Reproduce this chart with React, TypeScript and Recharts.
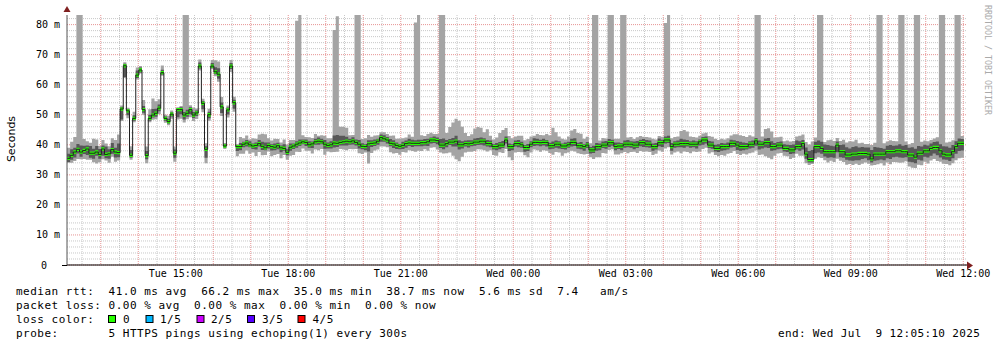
import React from 'react';
import { ComposedChart, Area, Line, XAxis, YAxis, CartesianGrid } from 'recharts';

// time axis: minutes since Tue 00:00, one sample every 5 minutes
const startMinute = 726;
const stepMinutes = 5;

// median rtt per 5-minute step (ms)
const median = [
  35.5, 36.5, 37.6, 38.5, 37.6, 38.1, 38.6, 37.2, 37.2, 37.6,
  36.8, 38.6, 36.8, 37.0, 38.4, 37.6, 37.4, 51.9, 66.3, 51.3,
  36.5, 48.8, 63.2, 64.9, 51.7, 36.4, 48.8, 49.9, 50.5, 52.2,
  64.0, 48.8, 47.7, 50.2, 37.2, 51.7, 51.7, 49.9, 50.5, 51.7,
  49.9, 50.6, 66.2, 53.8, 38.5, 50.0, 66.2, 64.3, 63.5, 52.6,
  39.6, 51.6, 66.2, 54.0, 39.4, 39.4,
  40.2, 40.6, 40.0, 39.6, 39.8, 40.4, 39.5, 39.0, 39.8, 39.4,
  39.2, 39.7, 39.0, 38.8, 37.5, 39.2, 39.6,
  40.2, 40.6, 41.0, 40.8, 40.0, 40.3, 41.0, 41.2, 41.0, 40.2, 39.8, 40.0, 40.6, 40.5, 40.8, 41.0, 41.2, 41.0,
  41.3, 40.8, 40.2, 39.5, 39.4, 40.3, 40.5, 40.6, 41.2, 42.4, 42.0, 41.6, 40.5, 40.3, 39.8, 39.5, 39.8, 40.4, 40.6, 40.5, 40.5,
  40.5, 40.7, 40.7, 41.0, 41.6, 41.6, 41.4, 39.9, 39.9, 40.4,
  40.9, 40.9, 41.2, 40.0, 40.0, 40.4, 40.3, 40.5, 40.9, 40.9,
  41.2, 41.2, 40.4, 40.4, 39.4, 39.4, 39.9, 39.9, 41.6, 39.4,
  39.4, 40.4, 40.4, 40.0, 39.1, 39.1, 40.2, 40.8, 40.8, 40.7,
  40.8, 40.8, 39.7, 39.7, 40.2, 40.2, 39.6, 39.6, 40.0, 40.8,
  40.8, 39.7, 39.7, 39.4, 39.9,
  38.3, 38.3, 39.4, 39.4, 39.9, 39.9, 40.7, 40.7, 39.4, 39.6,
  39.6, 40.2, 40.2, 40.2, 39.9, 39.9, 40.7, 40.7, 40.2, 40.2,
  39.4, 39.4, 40.7, 40.7, 41.6, 41.6, 39.4, 40.2, 40.2, 40.4,
  40.4, 40.4, 40.2, 40.2, 40.2, 41.0, 41.6, 41.6, 39.9, 39.9,
  38.8, 38.8, 39.4, 39.4, 39.4, 40.5, 40.5, 39.9, 39.4, 39.4,
  39.4, 40.2, 40.2, 41.3, 40.2, 40.2, 40.7, 40.7, 39.4, 39.4,
  39.9, 39.9, 38.8, 38.8, 38.3, 38.3, 39.4, 39.4, 40.4, 36.9,
  35.1, 35.1, 39.4, 39.4, 38.8, 37.7, 37.7, 37.7, 37.7, 39.9,
  37.7, 37.7, 36.6, 36.6, 36.9, 36.9, 37.1, 37.1, 37.1, 36.9,
  35.3, 36.9, 36.9, 36.9, 36.9, 37.7, 37.7, 37.7, 38.0, 38.0,
  37.7, 37.7, 36.6, 36.6, 35.9, 37.2, 37.2, 38.0, 38.0, 38.8,
  39.1, 39.1, 38.0, 36.9, 36.6, 36.6, 37.7, 39.4, 40.5, 40.5,
];

// distance from median down to 2nd ping (ms)
const darkLo = [
  1.2, 1.5, 1.8, 1.4, 1.6, 1.2, 2.0, 1.5, 1.8, 1.2, 1.4, 2.2, 1.3, 1.6, 1.4, 1.8, 1.5,
  3.5, 3.8, 1.5, 0.8, 0.8, 1.0, 0.8, 1.0, 1.2, 0.8, 0.8, 1.2, 1.0, 0.6, 0.8, 0.6, 0.8, 1.5, 2.5, 1.5,
  1.5, 1.2, 1.5, 1.0, 1.0, 0.8, 2.0, 2.8, 1.2, 0.6, 0.8, 1.5, 2.0, 0.5, 1.5, 1.0, 2.0, 1.5, 1.2,
  1.0, 1.2, 0.8, 1.0, 1.4, 1.0, 1.2, 0.8, 1.0, 1.3, 1.0, 1.2, 1.5, 0.8, 1.0, 1.2, 1.0,
  1.2, 1.0, 0.8, 1.2, 1.0, 1.4, 1.0, 1.2, 0.8, 1.5, 1.0, 1.2, 1.5, 1.2, 1.0, 1.2, 1.4, 1.0,
  1.2, 1.0, 1.4, 1.0, 1.2, 2.5, 1.2, 1.0, 1.2, 1.4, 1.0, 1.2, 1.0, 1.4, 1.2, 1.0, 1.2, 1.4, 1.0, 1.2, 1.0,
  1.0, 1.2, 1.0, 1.4, 1.2, 1.0, 1.2, 1.0, 1.4, 1.2, 1.0, 1.5, 1.8, 1.6, 1.2, 1.0, 1.2, 1.0, 1.2,
  1.0, 1.2, 1.4, 1.0, 1.2, 1.0, 1.2, 1.4, 1.0, 1.2, 1.5, 1.2, 1.0, 1.2, 1.0, 1.4, 1.2, 1.0, 1.2, 1.0,
  1.2, 1.0, 1.4, 1.2, 1.0, 1.2, 1.4, 1.0, 1.2, 1.0, 1.4, 1.2, 1.0, 1.2, 1.4, 1.0,
  1.2, 1.0, 1.4, 1.2, 1.0, 1.2, 1.4, 1.0, 1.2, 1.0, 1.4, 1.2, 1.0, 1.2, 1.4, 1.0, 1.2, 1.4, 1.0, 1.2,
  1.4, 1.0, 1.2, 1.4, 1.2, 1.0, 1.4, 1.2, 1.0, 1.2, 1.4, 1.0, 1.2, 1.0, 1.4, 1.2, 1.6, 1.2, 1.0, 1.2,
  1.0, 1.2, 1.4, 1.2, 1.0, 1.4, 1.2, 1.6, 1.4, 1.2, 1.0, 1.4, 1.2, 1.6, 1.8, 1.4, 1.6, 1.8, 1.4, 1.2,
  1.4, 1.2, 1.0, 1.2, 1.4, 1.2, 1.0, 1.4, 2.0, 1.5, 1.0, 1.0, 2.2, 2.0, 1.8, 1.6, 2.0, 1.8, 2.0, 2.4,
  1.8, 2.0, 1.6, 1.8, 2.2, 2.0, 2.2, 1.8, 1.6, 2.0, 1.2, 2.2, 2.0, 1.8, 2.0, 2.2, 2.4, 1.8, 2.0, 2.2,
  2.0, 1.8, 2.2, 2.4, 2.0, 2.2, 2.4, 2.0, 2.2, 2.4, 2.0, 2.6, 2.2, 1.8, 1.6, 2.0, 2.2, 2.4, 2.6, 2.4,
];

// distance from median up to 4th ping (ms)
const darkHi = [
  1.5, 2.0, 1.4, 1.8, 2.2, 1.6, 1.2, 2.4, 1.5, 2.0, 1.8, 1.2, 2.6, 1.5, 2.2, 1.4, 3.0,
  0.6, 0.7, 0.6, 1.8, 1.0, 1.5, 0.8, 1.2, 1.5, 1.2, 2.0, 1.5, 1.2, 1.0, 0.6, 1.0, 0.6, 1.2, 0.5, 0.8,
  1.0, 1.2, 0.8, 1.0, 0.8, 1.2, 0.8, 1.0, 1.0, 1.0, 1.5, 2.0, 1.5, 0.5, 0.8, 1.0, 1.0, 0.5, 1.2,
  0.8, 1.0, 1.2, 0.8, 1.0, 1.2, 1.5, 1.8, 1.0, 0.8, 1.2, 1.0, 0.8, 1.4, 1.0, 1.2, 0.8,
  1.0, 1.2, 0.8, 1.0, 1.2, 0.8, 1.0, 1.2, 1.0, 1.4, 1.0, 1.2, 2.5, 2.8, 2.2, 2.0, 1.5, 1.0,
  1.2, 1.0, 1.4, 1.0, 0.8, 1.2, 1.0, 1.2, 0.8, 1.0, 1.2, 1.0, 1.4, 1.2, 1.0, 0.8, 1.2, 1.0, 1.4, 1.2, 1.0,
  1.2, 1.0, 1.2, 1.0, 0.8, 1.2, 1.0, 2.0, 2.2, 1.2, 1.0, 1.4, 1.8, 1.5, 1.2, 1.0, 1.2, 1.0, 1.2,
  1.4, 1.2, 1.0, 1.2, 1.0, 0.8, 1.2, 1.0, 1.4, 1.2, 1.0, 0.8, 1.0, 1.2, 1.0, 0.8, 1.2, 1.0, 1.4, 1.2,
  1.0, 1.2, 0.8, 1.0, 1.4, 1.2, 1.0, 0.8, 1.2, 1.0, 1.2, 1.4, 1.0, 1.2, 0.8, 1.0,
  1.0, 1.4, 1.2, 1.0, 1.2, 1.4, 1.2, 1.0, 1.4, 1.2, 1.0, 1.2, 1.4, 1.0, 1.2, 1.4, 1.0, 1.2, 1.4, 1.2,
  1.0, 1.2, 1.4, 1.0, 1.2, 1.4, 1.2, 1.0, 1.2, 1.6, 1.4, 1.2, 1.0, 1.2, 1.0, 0.8, 1.0, 1.2, 1.4, 1.2,
  1.2, 1.4, 1.2, 1.0, 1.4, 1.2, 1.0, 1.4, 1.6, 1.4, 1.2, 1.0, 1.2, 1.0, 1.2, 1.0, 1.4, 1.6, 1.8, 1.2,
  1.0, 1.2, 1.4, 1.2, 1.6, 1.8, 2.0, 1.8, 1.2, 2.2, 2.8, 3.2, 1.6, 2.0, 2.2, 2.4, 2.2, 2.0, 1.8, 1.2,
  2.2, 2.4, 2.6, 2.2, 2.4, 2.6, 2.0, 2.2, 2.0, 2.2, 3.0, 2.4, 2.2, 2.0, 1.8, 2.0, 2.2, 2.0, 1.8, 2.2,
  2.0, 2.2, 2.4, 2.6, 2.8, 2.4, 2.2, 2.0, 1.8, 1.6, 1.8, 2.0, 2.2, 2.6, 2.8, 2.4, 2.2, 1.8, 1.6, 1.4,
];

// distance from median down to fastest ping (ms)
const lightLo = [
  1.5, 2.5, 3.0, 3.2, 2.4, 2.8, 3.6, 2.2, 3.0, 3.8, 2.6, 3.4, 2.0, 3.0, 2.4, 3.2, 2.6,
  4.0, 4.0, 2.5, 1.5, 1.3, 1.5, 1.2, 1.7, 2.5, 1.3, 1.6, 2.0, 2.0, 1.0, 1.5, 1.2, 1.5, 2.8, 3.3, 3.0,
  2.5, 2.0, 2.5, 2.0, 2.0, 1.5, 3.0, 4.6, 2.0, 1.0, 1.5, 2.5, 3.0, 1.0, 2.5, 2.0, 3.0, 3.2, 2.4,
  3.2, 2.5, 3.0, 2.2, 3.5, 2.8, 3.0, 2.4, 2.0, 3.2, 2.6, 2.8, 3.5, 2.2, 2.5, 2.8, 3.0,
  2.5, 3.0, 2.2, 2.8, 2.0, 3.2, 2.6, 3.0, 2.4, 3.5, 2.0, 2.5, 3.0, 2.8, 2.2, 2.6, 3.0, 2.4,
  2.8, 2.2, 3.0, 2.6, 2.0, 6.5, 3.2, 2.5, 2.8, 3.0, 2.6, 2.4, 3.0, 3.2, 2.5, 2.8, 2.2, 3.0, 2.4, 2.6, 2.8,
  2.5, 2.8, 2.2, 3.0, 2.6, 2.4, 3.0, 2.5, 2.8, 3.2, 3.5, 4.5, 6.0, 5.5, 4.0, 3.0, 2.6, 2.8, 3.0,
  2.4, 2.8, 3.0, 2.6, 2.2, 2.8, 3.0, 2.4, 2.6, 3.0, 3.5, 4.5, 3.0, 2.8, 2.5, 2.6, 3.2, 2.8, 2.4, 2.6,
  3.0, 2.6, 2.8, 2.4, 3.0, 2.6, 2.8, 3.2, 2.4, 2.6, 2.8, 3.0, 2.5, 2.8, 2.6, 3.0,
  2.4, 3.0, 3.5, 3.5, 2.6, 2.8, 2.4, 2.2, 2.6, 2.8, 2.4, 2.6, 3.0, 2.6, 2.2, 2.6, 2.8, 3.0, 2.4, 2.6,
  2.8, 2.4, 2.6, 3.0, 2.8, 2.4, 2.6, 2.8, 2.4, 3.2, 2.6, 2.8, 3.0, 2.4, 2.6, 3.2, 3.0, 2.6, 2.8, 2.4,
  2.2, 2.6, 2.8, 3.0, 2.4, 3.2, 2.6, 3.0, 2.8, 2.4, 2.6, 3.0, 2.8, 3.2, 3.6, 3.4, 4.5, 5.0, 4.2, 3.0,
  2.8, 2.6, 2.4, 2.6, 3.0, 2.6, 2.4, 3.0, 4.0, 3.0, 1.8, 1.5, 4.0, 3.5, 3.2, 2.8, 3.6, 3.0, 3.4, 4.5,
  3.0, 3.4, 3.2, 3.0, 3.6, 3.2, 3.8, 3.4, 3.0, 3.2, 2.2, 3.6, 3.4, 3.0, 3.8, 3.6, 4.2, 3.4, 3.8, 4.0,
  3.6, 3.2, 3.8, 4.2, 3.6, 3.8, 4.0, 3.6, 4.2, 4.0, 3.8, 4.5, 3.6, 3.2, 3.0, 3.4, 3.8, 4.5, 5.0, 4.8,
];

// distance from median up to slowest ping (ms); large values run off the top
const lightHi = [
  3.5, 4.5, 5.0, 60, 60, 3.8, 2.6, 3.5, 4.8, 4.2, 2.8, 3.0, 3.6, 2.5, 3.8, 4.0, 6.0,
  1.2, 1.2, 1.0, 3.0, 2.2, 2.5, 1.3, 3.2, 3.0, 3.0, 5.5, 4.0, 3.0, 2.4, 1.2, 2.0, 1.2, 2.2, 0.8, 1.2,
  60, 60, 1.5, 2.5, 1.5, 2.2, 1.5, 2.0, 2.0, 2.0, 3.8, 4.2, 3.3, 1.0, 1.5, 2.0, 2.0, 0.8, 3.2,
  2.0, 2.5, 1.8, 2.6, 2.2, 3.0, 4.2, 4.5, 2.4, 2.0, 2.8, 2.2, 1.8, 3.0, 2.6, 2.4, 2.0,
  41.1, 60, 2.2, 1.8, 2.5, 2.0, 2.6, 1.8, 2.2, 2.8, 2.4, 2.2, 37.6, 42.3, 5.2, 5.0, 4.5, 2.2,
  2.0, 60, 60, 2.4, 2.8, 3.0, 2.2, 2.5, 2.0, 1.8, 2.2, 2.0, 2.5, 2.8, 2.2, 2.6, 2.4, 2.0, 2.8, 2.2, 40.2,
  60, 2.5, 2.2, 2.6, 2.4, 2.0, 2.2, 60, 60, 3.5, 5.0, 6.5, 7.5, 8.0, 6.0, 3.5, 2.6, 3.0, 4.5,
  5.0, 4.5, 3.0, 4.8, 2.6, 2.4, 3.0, 4.0, 5.0, 4.0, 3.5, 2.8, 2.4, 2.6, 3.0, 2.4, 2.8, 2.6, 2.2, 2.8,
  2.6, 2.4, 2.8, 3.5, 6.0, 4.0, 2.6, 2.4, 2.2, 2.8, 4.0, 4.5, 4.2, 4.0, 2.6, 2.8,
  2.2, 60, 60, 2.0, 2.4, 2.2, 60, 60, 2.6, 2.4, 60, 60, 2.2, 2.4, 2.0, 2.6, 2.2, 2.0, 2.4, 2.2,
  2.6, 2.4, 2.2, 2.0, 38.9, 60, 2.8, 2.4, 2.6, 4.2, 4.5, 4.0, 2.6, 2.4, 2.2, 2.0, 2.2, 2.4, 3.0, 2.8,
  3.2, 2.8, 2.6, 2.4, 2.8, 2.6, 3.0, 3.6, 3.8, 3.5, 3.2, 3.0, 2.6, 60, 60, 2.6, 4.6, 4.8, 5.0, 3.0,
  2.6, 2.8, 2.4, 2.6, 2.8, 3.0, 3.4, 3.6, 3.0, 4.0, 5.0, 6.0, 3.0, 60, 60, 3.2, 3.8, 4.0, 3.6, 2.4,
  3.6, 4.0, 4.2, 4.6, 4.2, 4.8, 3.4, 3.6, 3.2, 3.4, 4.6, 3.8, 60, 60, 3.6, 3.4, 3.8, 3.6, 3.2, 60,
  60, 3.4, 3.6, 4.0, 60, 60, 3.8, 3.4, 3.2, 2.8, 3.0, 3.4, 60, 60, 4.2, 4.4, 3.8, 60, 60, 2.4,
];

const xTickValues = [900, 1080, 1260, 1440, 1620, 1800, 1980, 2160];
const xTickLabels = ['Tue 15:00', 'Tue 18:00', 'Tue 21:00', 'Wed 00:00', 'Wed 03:00', 'Wed 06:00', 'Wed 09:00', 'Wed 12:00'];
const yTickValues = [0, 10, 20, 30, 40, 50, 60, 70, 80];
const yTickLabels = ['0', '10 m', '20 m', '30 m', '40 m', '50 m', '60 m', '70 m', '80 m'];

const statsLine1 = 'median rtt:  41.0 ms avg  66.2 ms max  35.0 ms min  38.7 ms now  5.6 ms sd  7.4   am/s';
const statsLine2 = 'packet loss: 0.00 % avg  0.00 % max  0.00 % min  0.00 % now';
const probeLine = 'probe:       5 HTTPS pings using echoping(1) every 300s';
const endLine = 'end: Wed Jul  9 12:05:10 2025';
const lossLabels = ['0', '1/5', '2/5', '3/5', '4/5'];
const lossColors = ['#26ff00', '#00b8ff', '#cc00ff', '#5500ff', '#ff0000'];

const Y_MAX = 83.2;
const GREEN_HALF = 0.55;

const rows = median.map((m, i) => ({
  t: startMinute + stepMinutes * i,
  light: [m - lightLo[i], m + lightHi[i]],
  dark: [m - darkLo[i], m + darkHi[i]],
  green: [m - GREEN_HALF, m + GREEN_HALF],
  median: m,
}));
// closing point so the last step has its width
const last = rows[rows.length - 1];
const data = [...rows, { ...last, t: last.t + stepMinutes }];

const domainStart = startMinute;
const domainEnd = startMinute + 1440;

const minorV: number[] = [];
const majorV: number[] = [];
for (let m = 750; m <= domainEnd; m += 30) {
  if (m % 60 === 0) majorV.push(m);
  else minorV.push(m);
}
const minorH: number[] = [];
const majorH: number[] = [];
for (let v = 0; v <= Y_MAX; v += 2) {
  if (v % 10 === 0) majorH.push(v);
  else minorH.push(v);
}

const MONO = 'DejaVu Sans Mono';

const YTick = (props: any) => {
  const { x, y, payload } = props;
  const idx = yTickValues.indexOf(payload.value);
  const label = yTickLabels[idx] ?? String(payload.value);
  const shift = payload.value === 0 ? 13 : 0;
  return (
    <text x={x - shift} y={y} dy={3.5} textAnchor="end" fontFamily={MONO} fontSize={10} fill="#000">
      {label}
    </text>
  );
};

const XTick = (props: any) => {
  const { x, y, payload } = props;
  const idx = xTickValues.indexOf(payload.value);
  return (
    <text x={x} y={y} dy={8} textAnchor="middle" fontFamily={MONO} fontSize={10} fill="#000">
      {xTickLabels[idx]}
    </text>
  );
};

const boxX = [108.5, 146, 197, 247.5, 298];
const labelX = [123, 160, 211, 262, 312.5];

export default function App() {
  return (
    <div style={{ position: 'absolute', left: 0, top: 0, width: 997, height: 347, background: '#fff' }}>
      <ComposedChart
        width={997}
        height={347}
        data={data}
        margin={{ top: 15, right: 30, bottom: 52, left: 7 }}
      >
        <CartesianGrid
          horizontalValues={minorH}
          verticalValues={minorV}
          stroke="#c8c8c8"
          strokeDasharray="1 1"
        />
        <CartesianGrid
          horizontalValues={majorH}
          verticalValues={majorV}
          stroke="#e79494"
          strokeDasharray="1 1"
        />
        <XAxis
          dataKey="t"
          type="number"
          domain={[domainStart, domainEnd]}
          ticks={xTickValues}
          tick={<XTick />}
          tickLine={false}
          tickSize={0}
          tickMargin={4}
          axisLine={{ stroke: '#000' }}
          height={30}
          allowDataOverflow
          interval={0}
        />
        <YAxis
          type="number"
          domain={[0, Y_MAX]}
          ticks={yTickValues}
          tick={<YTick />}
          tickLine={false}
          tickSize={0}
          tickMargin={7}
          axisLine={{ stroke: '#555' }}
          width={60}
          allowDataOverflow
          interval={0}
        />
        <Area
          type="stepAfter"
          dataKey="light"
          fill="#a4a4a4"
          fillOpacity={1}
          stroke="none"
          isAnimationActive={false}
          activeDot={false}
        />
        <Area
          type="stepAfter"
          dataKey="dark"
          fill="#585858"
          fillOpacity={1}
          stroke="none"
          isAnimationActive={false}
          activeDot={false}
        />
        <Line
          type="stepAfter"
          dataKey="median"
          stroke="#202020"
          strokeWidth={1}
          dot={false}
          activeDot={false}
          isAnimationActive={false}
        />
        <Area
          type="stepAfter"
          dataKey="green"
          fill={lossColors[0]}
          fillOpacity={1}
          stroke="none"
          isAnimationActive={false}
          activeDot={false}
        />
      </ComposedChart>
      <svg
        width={997}
        height={347}
        style={{ position: 'absolute', left: 0, top: 0, pointerEvents: 'none' }}
      >
        <polygon points="63.5,12 70.5,12 67,6" fill="#7f1f1f" />
        <line x1={62} y1={265.5} x2={67} y2={265.5} stroke="#000" />
        <polygon points="967,261.5 967,269.5 973,265.5" fill="#7f1f1f" />
        <text
          x={15}
          y={139}
          transform="rotate(-90 15 139)"
          textAnchor="middle"
          fontFamily="DejaVu Sans"
          fontSize={11}
          fill="#000"
        >
          Seconds
        </text>
        <text
          transform="translate(985 5) rotate(90)"
          fontFamily={MONO}
          fontSize={8.3}
          fill="#aaaaaa"
        >
          RRDTOOL / TOBI OETIKER
        </text>
        <g fontFamily={MONO} fontSize={11} fill="#000">
          <text x={16} y={295} xmlSpace="preserve" letterSpacing={0.5}>{statsLine1}</text>
          <text x={16} y={309} xmlSpace="preserve" letterSpacing={0.5}>{statsLine2}</text>
          <text x={16} y={323} xmlSpace="preserve" letterSpacing={0.5}>{'loss color:'}</text>
          {lossLabels.map((l, i) => (
            <g key={l}>
              <rect x={boxX[i]} y={315.5} width={7} height={7} fill={lossColors[i]} stroke="#000" strokeWidth={1} />
              <text x={labelX[i]} y={323} letterSpacing={0.5}>{l}</text>
            </g>
          ))}
          <text x={16} y={337} xmlSpace="preserve" letterSpacing={0.5}>{probeLine}</text>
          <text x={778} y={337} xmlSpace="preserve" letterSpacing={0.35}>{endLine}</text>
        </g>
      </svg>
    </div>
  );
}
